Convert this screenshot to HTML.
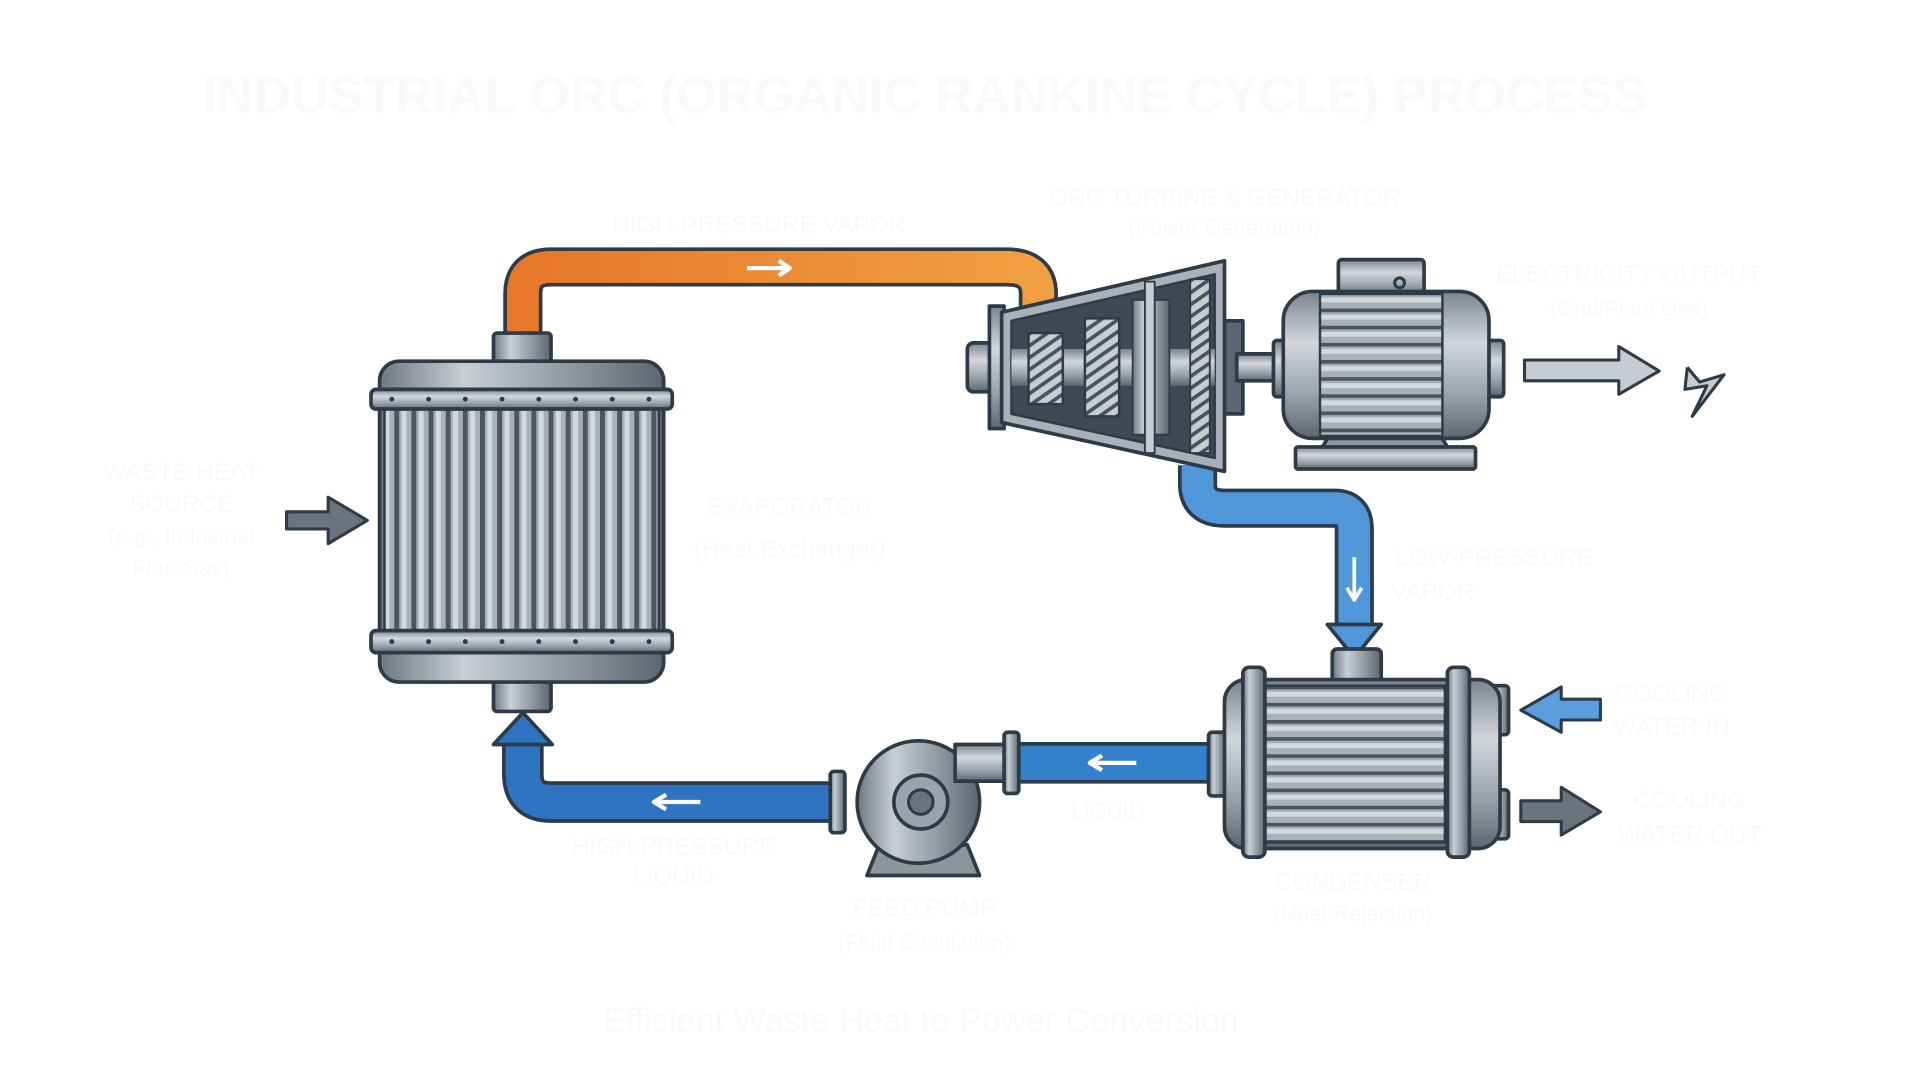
<!DOCTYPE html>
<html><head><meta charset="utf-8"><style>
html,body{margin:0;padding:0;background:#fff;width:1920px;height:1080px;overflow:hidden}
svg{display:block}
text{font-family:"Liberation Sans",sans-serif;fill:#f7faf7}
</style></head><body>
<svg width="1920" height="1080" viewBox="0 0 1568 882" preserveAspectRatio="none" xmlns="http://www.w3.org/2000/svg">
<defs>
<linearGradient id="orng" x1="0" x2="1"><stop offset="0" stop-color="#e8772a"/><stop offset="1" stop-color="#f0a040"/></linearGradient>
<linearGradient id="metV" x1="0" x2="1"><stop offset="0" stop-color="#6f7782"/><stop offset=".3" stop-color="#c9ced4"/><stop offset=".6" stop-color="#9aa2ab"/><stop offset="1" stop-color="#5d6570"/></linearGradient>
<linearGradient id="metH" x1="0" y1="0" x2="0" y2="1"><stop offset="0" stop-color="#7b838d"/><stop offset=".35" stop-color="#d3d7dc"/><stop offset=".7" stop-color="#9aa2ab"/><stop offset="1" stop-color="#5d6570"/></linearGradient>
<pattern id="vfins" width="14" height="10" patternUnits="userSpaceOnUse"><rect width="14" height="10" fill="#a9b0b8"/><rect x="0" width="4" height="10" fill="#4d5560"/><rect x="6" width="4" height="10" fill="#d5d9de"/></pattern>
<pattern id="hfins" width="10" height="14" patternUnits="userSpaceOnUse"><rect width="10" height="14" fill="#a9b0b8"/><rect y="0" width="10" height="3" fill="#4d5560"/><rect y="5" width="10" height="4" fill="#d5d9de"/></pattern>
<pattern id="diag" width="8" height="8" patternUnits="userSpaceOnUse" patternTransform="rotate(-35)"><rect width="8" height="8" fill="#c8cdd3"/><rect width="8" height="3" fill="#4a525c"/></pattern>
</defs>
<g stroke-linejoin="round" stroke-linecap="butt">
<path d="M427,275 V240 Q427,218 450,218 H822 Q848,218 848,240 V252" fill="none" stroke="#2d3a48" stroke-width="32"/>
<path d="M427,275 V240 Q427,218 450,218 H822 Q848,218 848,240 V252" fill="none" stroke="url(#orng)" stroke-width="26"/>
<path d="M610,219 H642 M636,213 L645,219 L636,225" stroke="#fff" stroke-width="3.5" fill="none"/>
<path d="M978,380 V395 Q978,415 1000,415 H1090 Q1106,415 1106,432 V512" fill="none" stroke="#2d3a48" stroke-width="32"/>
<path d="M978,380 V395 Q978,415 1000,415 H1090 Q1106,415 1106,432 V512" fill="none" stroke="#4f97d8" stroke-width="26"/>
<polygon points="1084,510 1128,510 1106,537" fill="#4f97d8" stroke="#2d3a48" stroke-width="3"/>
<path d="M1106,455 V488 M1100,480 L1106,490 L1112,480" stroke="#fff" stroke-width="3" fill="none"/>
<path d="M995,623 H826" fill="none" stroke="#2d3a48" stroke-width="34"/>
<path d="M995,623 H826" fill="none" stroke="#3480cc" stroke-width="28"/>
<path d="M928,623 H892 M900,617 L890,623 L900,629" stroke="#fff" stroke-width="3.5" fill="none"/>
<path d="M683,655 H450 Q427,655 427,632 V598" fill="none" stroke="#2d3a48" stroke-width="34"/>
<path d="M683,655 H450 Q427,655 427,632 V598" fill="none" stroke="#2f74c0" stroke-width="28"/>
<polygon points="403,608 451,608 427,582" fill="#2f74c0" stroke="#2d3a48" stroke-width="3"/>
<path d="M572,655 H536 M544,649 L534,655 L544,661" stroke="#fff" stroke-width="3.5" fill="none"/>

<rect x="403" y="272" width="47" height="25" rx="3" fill="url(#metV)" stroke="#2d3a48" stroke-width="3"/>
<rect x="403" y="556" width="47" height="25" rx="3" fill="url(#metV)" stroke="#2d3a48" stroke-width="3"/>
<rect x="310" y="295" width="232" height="262" rx="16" fill="url(#metV)" stroke="#2d3a48" stroke-width="3"/>
<rect x="314" y="333" width="224" height="182" fill="url(#vfins)" stroke="#2d3a48" stroke-width="2"/>
<rect x="303" y="318" width="246" height="16" rx="4" fill="url(#metH)" stroke="#2d3a48" stroke-width="3"/>
<rect x="303" y="515" width="246" height="18" rx="4" fill="url(#metH)" stroke="#2d3a48" stroke-width="3"/>
<g fill="#2d3a48">
<circle cx="320" cy="326" r="2"/><circle cx="350" cy="326" r="2"/><circle cx="380" cy="326" r="2"/><circle cx="410" cy="326" r="2"/><circle cx="440" cy="326" r="2"/><circle cx="470" cy="326" r="2"/><circle cx="500" cy="326" r="2"/><circle cx="530" cy="326" r="2"/>
<circle cx="320" cy="524" r="2"/><circle cx="350" cy="524" r="2"/><circle cx="380" cy="524" r="2"/><circle cx="410" cy="524" r="2"/><circle cx="440" cy="524" r="2"/><circle cx="470" cy="524" r="2"/><circle cx="500" cy="524" r="2"/><circle cx="530" cy="524" r="2"/>
</g>
<polygon points="234,418 268,418 268,406 300,425 268,444 268,432 234,432" fill="#6b747e" stroke="#2d3a48" stroke-width="2.5"/>

<rect x="790" y="280" width="28" height="40" rx="5" fill="url(#metH)" stroke="#2d3a48" stroke-width="3"/>
<rect x="808" y="250" width="12" height="100" fill="url(#metH)" stroke="#2d3a48" stroke-width="3"/>
<rect x="990" y="262" width="25" height="76" fill="#5d6570" stroke="#2d3a48" stroke-width="3"/>
<rect x="1010" y="289" width="42" height="22" fill="url(#metH)" stroke="#2d3a48" stroke-width="3"/>
<polygon points="818,255 1000,213 1000,385 818,345" fill="#a9b0b8" stroke="#2d3a48" stroke-width="3"/>
<polygon points="826,262 992,224 992,374 826,338" fill="#3f4853" stroke="#2d3a48" stroke-width="2"/>
<rect x="826" y="285" width="166" height="30" fill="url(#metH)"/>
<rect x="840" y="272" width="28" height="58" fill="url(#diag)" stroke="#2d3a48" stroke-width="2"/>
<rect x="886" y="260" width="28" height="80" fill="url(#diag)" stroke="#2d3a48" stroke-width="2"/>
<rect x="925" y="245" width="30" height="110" fill="url(#metV)" stroke="#2d3a48" stroke-width="1.5"/>
<rect x="935" y="230" width="8" height="140" fill="#c7ccd2" stroke="#2d3a48" stroke-width="1.5"/>
<rect x="972" y="228" width="16" height="142" fill="url(#diag)" stroke="#2d3a48" stroke-width="1.5"/>

<rect x="1093" y="212" width="70" height="30" rx="3" fill="url(#metH)" stroke="#2d3a48" stroke-width="3"/>
<circle cx="1143" cy="231" r="4" fill="none" stroke="#2d3a48" stroke-width="2.5"/>
<rect x="1058" y="365" width="147" height="18" rx="2" fill="url(#metH)" stroke="#2d3a48" stroke-width="3"/>
<polygon points="1080,365 1092,345 1170,345 1182,365" fill="#8d959e" stroke="#2d3a48" stroke-width="3"/>
<rect x="1040" y="278" width="14" height="46" rx="3" fill="url(#metH)" stroke="#2d3a48" stroke-width="3"/>
<rect x="1212" y="278" width="16" height="46" rx="3" fill="url(#metH)" stroke="#2d3a48" stroke-width="3"/>
<rect x="1048" y="238" width="168" height="120" rx="24" fill="url(#metH)" stroke="#2d3a48" stroke-width="3"/>
<rect x="1078" y="240" width="100" height="116" fill="url(#hfins)" stroke="#2d3a48" stroke-width="2"/>
<polygon points="1245,294 1322,294 1322,283 1355,303 1322,322 1322,311 1245,311" fill="#c6ccd2" stroke="#2d3a48" stroke-width="2.5"/>
<polyline points="1378,300 1388,312 1408,306 1382,340 1394,315 1376,318 1378,300" fill="#c6ccd2" stroke="#2d3a48" stroke-width="2.5"/>

<rect x="1088" y="530" width="40" height="30" rx="4" fill="url(#metV)" stroke="#2d3a48" stroke-width="3"/>
<rect x="1218" y="560" width="14" height="40" rx="3" fill="url(#metV)" stroke="#2d3a48" stroke-width="3"/>
<rect x="1218" y="645" width="14" height="40" rx="3" fill="url(#metV)" stroke="#2d3a48" stroke-width="3"/>
<rect x="987" y="598" width="14" height="52" rx="3" fill="url(#metV)" stroke="#2d3a48" stroke-width="3"/>
<rect x="1000" y="555" width="225" height="138" rx="18" fill="url(#metH)" stroke="#2d3a48" stroke-width="3"/>
<rect x="1030" y="560" width="150" height="128" fill="url(#hfins)" stroke="#2d3a48" stroke-width="2"/>
<rect x="1015" y="545" width="18" height="155" rx="5" fill="url(#metV)" stroke="#2d3a48" stroke-width="3"/>
<rect x="1182" y="545" width="18" height="155" rx="5" fill="url(#metV)" stroke="#2d3a48" stroke-width="3"/>
<polygon points="1307,571 1275,571 1275,561 1242,580 1275,598 1275,588 1307,588" fill="#5a9ee0" stroke="#2d3a48" stroke-width="2.5"/>
<polygon points="1242,654 1275,654 1275,643 1307,663 1275,682 1275,671 1242,671" fill="#6b747e" stroke="#2d3a48" stroke-width="2.5"/>

<polygon points="708,715 800,715 790,690 718,690" fill="#8d959e" stroke="#2d3a48" stroke-width="3"/>
<rect x="678" y="630" width="12" height="50" rx="3" fill="url(#metV)" stroke="#2d3a48" stroke-width="3"/>
<circle cx="750" cy="655" r="50" fill="url(#metV)" stroke="#2d3a48" stroke-width="3"/>
<rect x="780" y="608" width="46" height="30" fill="url(#metH)" stroke="#2d3a48" stroke-width="3"/>
<rect x="820" y="598" width="12" height="50" rx="3" fill="url(#metV)" stroke="#2d3a48" stroke-width="3"/>
<circle cx="752" cy="655" r="22" fill="#9aa2ab" stroke="#2d3a48" stroke-width="3"/>
<circle cx="752" cy="655" r="10" fill="#6a727c" stroke="#2d3a48" stroke-width="2.5"/>
</g>

<text x="165" y="92" font-size="42" font-weight="bold" textLength="1180" lengthAdjust="spacingAndGlyphs">INDUSTRIAL ORC (ORGANIC RANKINE CYCLE) PROCESS</text>
<text x="620" y="190" font-size="20" text-anchor="middle">HIGH-PRESSURE VAPOR</text>
<text x="1000" y="168" font-size="20" text-anchor="middle">ORC TURBINE &amp; GENERATOR</text>
<text x="1000" y="192" font-size="18" text-anchor="middle">(Power Generation)</text>
<text x="1330" y="230" font-size="20" text-anchor="middle">ELECTRICITY OUTPUT</text>
<text x="1330" y="258" font-size="18" text-anchor="middle">(Grid/Plant Use)</text>
<text x="148" y="392" font-size="20" text-anchor="middle">WASTE HEAT</text>
<text x="148" y="418" font-size="20" text-anchor="middle">SOURCE</text>
<text x="148" y="444" font-size="18" text-anchor="middle">(e.g., Industrial</text>
<text x="148" y="470" font-size="18" text-anchor="middle">Flue Gas)</text>
<text x="645" y="420" font-size="20" text-anchor="middle">EVAPORATOR</text>
<text x="645" y="455" font-size="20" text-anchor="middle">(Heat Exchanger)</text>
<text x="1220" y="462" font-size="20" text-anchor="middle">LOW-PRESSURE</text>
<text x="1170" y="490" font-size="20" text-anchor="middle">VAPOR</text>
<text x="1365" y="573" font-size="20" text-anchor="middle">COOLING</text>
<text x="1365" y="600" font-size="20" text-anchor="middle">WATER IN</text>
<text x="1380" y="660" font-size="20" text-anchor="middle">COOLING</text>
<text x="1380" y="688" font-size="20" text-anchor="middle">WATER OUT</text>
<text x="905" y="668" font-size="18" text-anchor="middle">LIQUID</text>
<text x="550" y="698" font-size="20" text-anchor="middle">HIGH-PRESSURE</text>
<text x="550" y="722" font-size="20" text-anchor="middle">LIQUID</text>
<text x="1105" y="727" font-size="20" text-anchor="middle">CONDENSER</text>
<text x="1105" y="752" font-size="18" text-anchor="middle">(Heat Rejection)</text>
<text x="755" y="748" font-size="20" text-anchor="middle">FEED PUMP</text>
<text x="755" y="776" font-size="18" text-anchor="middle">(Fluid Circulation)</text>
<text x="752" y="843" font-size="28" text-anchor="middle">Efficient Waste Heat to Power Conversion</text>
</svg>
</body></html>
